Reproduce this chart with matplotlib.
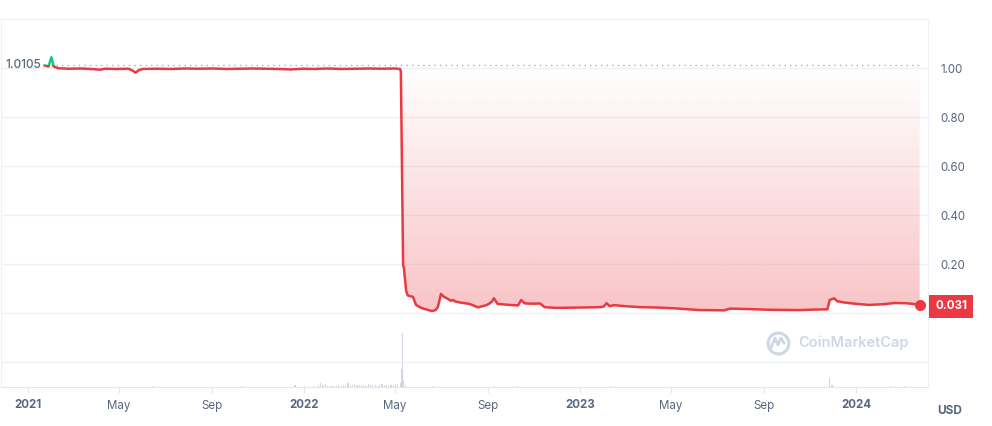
import numpy as np
import pandas as pd
import matplotlib
matplotlib.use("Agg")
import matplotlib.pyplot as plt
import matplotlib.dates as mdates
from matplotlib.patches import Rectangle
from matplotlib.path import Path

plt.rcParams['font.family'] = ['Inter', 'DejaVu Sans']

# price series (USD)
price_dates = [
    "2021-01-23", "2021-01-28", "2021-02-01", "2021-02-04", "2021-02-10", "2021-02-25",
    "2021-03-12", "2021-03-25", "2021-04-07", "2021-04-12", "2021-04-28", "2021-05-14",
    "2021-05-19", "2021-05-23", "2021-05-28", "2021-06-02", "2021-06-20", "2021-07-10",
    "2021-07-28", "2021-08-15", "2021-09-02", "2021-09-20", "2021-10-08", "2021-10-25",
    "2021-11-12", "2021-11-30", "2021-12-15", "2021-12-30", "2022-01-15", "2022-02-01",
    "2022-02-20", "2022-03-10", "2022-03-28", "2022-04-15", "2022-05-01", "2022-05-08",
    "2022-05-09", "2022-05-12", "2022-05-13", "2022-05-16", "2022-05-18", "2022-05-22",
    "2022-05-25", "2022-05-29", "2022-06-04", "2022-06-10", "2022-06-19", "2022-06-24",
    "2022-06-27", "2022-07-01", "2022-07-05", "2022-07-10", "2022-07-14", "2022-07-17",
    "2022-07-20", "2022-07-26", "2022-08-08", "2022-08-19", "2022-08-31", "2022-09-06",
    "2022-09-09", "2022-09-14", "2022-09-30", "2022-10-11", "2022-10-15", "2022-10-20",
    "2022-11-01", "2022-11-09", "2022-11-15", "2022-11-29", "2022-12-25", "2023-01-14",
    "2023-01-27", "2023-02-01", "2023-02-05", "2023-02-09", "2023-02-15", "2023-03-01",
    "2023-03-20", "2023-04-16", "2023-05-06", "2023-06-08", "2023-07-11", "2023-07-18",
    "2023-08-13", "2023-09-09", "2023-10-19", "2023-11-07", "2023-11-24", "2023-11-27",
    "2023-12-03", "2023-12-07", "2023-12-16", "2023-12-30", "2024-01-18", "2024-02-07",
    "2024-02-21", "2024-03-06", "2024-03-17", "2024-03-25",
]
price_values = [
    1.0105, 1.006, 1.044, 1.006, 0.999, 0.997,
    0.998, 0.996, 0.993, 0.997, 0.996, 0.997,
    0.990, 0.981, 0.992, 0.996, 0.997, 0.996,
    0.998, 0.997, 0.998, 0.996, 0.997, 0.998,
    0.997, 0.996, 0.994, 0.997, 0.996, 0.998,
    0.996, 0.997, 0.998, 0.997, 0.998, 0.996,
    0.985, 0.195, 0.185, 0.090, 0.072, 0.068,
    0.066, 0.033, 0.022, 0.016, 0.008, 0.012,
    0.025, 0.078, 0.066, 0.058, 0.050, 0.053,
    0.047, 0.043, 0.037, 0.023, 0.033, 0.045,
    0.060, 0.037, 0.033, 0.031, 0.053, 0.039,
    0.038, 0.039, 0.024, 0.021, 0.022, 0.023,
    0.024, 0.026, 0.040, 0.028, 0.032, 0.028,
    0.024, 0.022, 0.019, 0.012, 0.011, 0.018,
    0.016, 0.013, 0.012, 0.014, 0.015, 0.053,
    0.060, 0.048, 0.043, 0.038, 0.033, 0.036,
    0.041, 0.040, 0.037, 0.031,
]
start_price = 1.0105
last_label = "0.031"

# volume (relative units, peak = 100)
vol_dates = [
    "2021-06-15", "2021-10-10", "2021-12-20", "2022-01-02", "2022-01-14", "2022-01-20",
    "2022-01-23", "2022-01-26", "2022-01-29", "2022-02-01", "2022-02-04", "2022-02-07",
    "2022-02-10", "2022-02-13", "2022-02-16", "2022-02-19", "2022-02-22", "2022-02-25",
    "2022-02-28", "2022-03-03", "2022-03-06", "2022-03-09", "2022-03-12", "2022-03-15",
    "2022-03-18", "2022-03-21", "2022-03-24", "2022-03-27", "2022-03-30", "2022-04-02",
    "2022-04-05", "2022-04-08", "2022-04-11", "2022-04-14", "2022-04-17", "2022-04-20",
    "2022-04-23", "2022-04-26", "2022-04-29", "2022-05-02", "2022-05-05", "2022-05-09",
    "2022-05-10", "2022-05-11", "2022-05-12", "2022-05-15", "2022-06-20", "2022-09-10",
    "2022-10-10", "2023-02-10", "2023-11-27", "2023-11-30", "2024-02-15", "2024-03-05",
]
vol_values = [
    1, 1, 3, 2, 2, 3,
    8, 3, 6, 2, 1, 2,
    2, 1, 3, 2, 3, 4,
    7, 3, 3, 5, 3, 4,
    4, 3, 2, 5, 3, 3,
    4, 2, 3, 5, 3, 4,
    2, 4, 4, 5, 5, 8,
    33, 100, 13, 4, 1, 1,
    1, 1, 17, 3, 1, 1,
]

red = "#ea3943"
green = "#16c784"
text_gray = "#58667e"
grid_gray = "#eff2f5"

x = pd.to_datetime(price_dates)
xn = mdates.date2num(x)
y = np.array(price_values)

fig = plt.figure(figsize=(9.92, 4.26), dpi=100)
ax = fig.add_axes([1 / 992, 39 / 426, 927 / 992, 368 / 426])
ax_vol = fig.add_axes([1 / 992, 39 / 426, 927 / 992, 368 / 426], sharex=ax)
ax_vol.set_zorder(0)
ax.set_zorder(1)
ax.patch.set_alpha(0)

# volume bars
ax_vol.bar(pd.to_datetime(vol_dates), vol_values, width=1.6, color="#cfd6e4", linewidth=0)
ax_vol.set_ylim(0, 100 * 368 / 54)
ax_vol.axis("off")

# gradient fill between baseline and price
fill = ax.fill_between(xn, y, start_price, where=y < start_price, interpolate=True,
                       facecolor="none", edgecolor="none")
grad = np.zeros((256, 1, 4))
grad[:, 0, :3] = matplotlib.colors.to_rgb(red)
grad[:, 0, 3] = np.linspace(0.3, 0.0, 256)
im = ax.imshow(grad, extent=[xn[0], xn[-1], 0, start_price], aspect="auto",
               origin="lower", zorder=1, interpolation="bilinear")
clip = Path.make_compound_path(*fill.get_paths())
im.set_clip_path(clip, transform=ax.transData)

# price line, green above the starting price, red below
red_line, = ax.plot(xn, y, color=red, lw=1.8, zorder=3, solid_joinstyle="round")
green_line, = ax.plot(xn, y, color=green, lw=1.8, zorder=3, solid_joinstyle="round")
red_line.set_clip_path(Rectangle((xn[0] - 50, -1), 2000, start_price + 1, transform=ax.transData))
green_line.set_clip_path(Rectangle((xn[0] - 50, start_price), 2000, 1, transform=ax.transData))
ax.plot(xn[-1], y[-1], "o", color=red, ms=7, zorder=4)

# dotted baseline and its label
ax.plot([xn[0], xn[-1]], [start_price, start_price], color="#a6b0c3", lw=1,
        linestyle=(0, (1, 3)), zorder=2)
ax.annotate(f"{start_price:.4f}", xy=(xn[0], start_price), xytext=(-3, 0),
            textcoords="offset pixels", ha="right", va="center", fontsize=8.5,
            color=text_gray, fontweight="medium")

# last price tag
ax.annotate(last_label, xy=(1.0, y[-1]), xycoords=("axes fraction", "data"),
            xytext=(23, -1), textcoords="offset pixels", ha="center", va="center",
            fontsize=8.3, color="white", fontweight="bold", annotation_clip=False,
            bbox=dict(boxstyle="square,pad=0.5", fc=red, ec="none"))

# axes styling
ax.set_xlim(mdates.date2num(pd.Timestamp("2020-11-26 07:00")),
            mdates.date2num(pd.Timestamp("2024-04-05")))
ax.set_ylim(-0.302, 1.2)
ax.set_yticks(np.arange(-0.2, 1.21, 0.2))
ax.set_yticklabels(["", "", "0.20", "0.40", "0.60", "0.80", "1.00", ""])
ax.yaxis.tick_right()
ax.tick_params(axis="y", length=0, pad=9, labelsize=8.3, labelcolor=text_gray)
ax.grid(axis="y", color=grid_gray, lw=1)
ax.set_axisbelow(True)

tick_dates = ["2021-01-01", "2021-05-01", "2021-09-01", "2022-01-01", "2022-05-01",
              "2022-09-01", "2023-01-01", "2023-05-01", "2023-09-01", "2024-01-01"]
tick_labels = ["2021", "May", "Sep", "2022", "May", "Sep", "2023", "May", "Sep", "2024"]
ax.set_xticks(mdates.date2num(pd.to_datetime(tick_dates)))
ax.set_xticklabels(tick_labels)
ax.tick_params(axis="x", length=4, color="#e3e7ec", pad=5, labelsize=8.3, labelcolor=text_gray)
for lbl in ax.get_xticklabels():
    if lbl.get_text().isdigit():
        lbl.set_fontweight("bold")

for side in ["top", "left", "right"]:
    ax.spines[side].set_color(grid_gray)
ax.spines["bottom"].set_color("#e3e7ec")

fig.text(950 / 992, 1 - 411 / 426, "USD", ha="center", va="center", fontsize=8.5,
         fontweight="bold", color=text_gray)

# watermark
wm = "#cfd6e4"
fig.text(798 / 992, 1 - 343 / 426, "CoinMarketCap", ha="left", va="center",
         fontsize=10.5, fontweight="semibold", color=wm)
ax.plot([778 / 992], [1 - 343 / 426], "o", ms=15, mfc="none", mec=wm, mew=2.2,
        transform=fig.transFigure, clip_on=False)
ax.plot(np.array([771, 775, 778, 781, 784]) / 992, 1 - np.array([348, 338, 345, 338, 343]) / 426,
        color=wm, lw=2, transform=fig.transFigure, clip_on=False)

fig.savefig("out.png", dpi=100)
